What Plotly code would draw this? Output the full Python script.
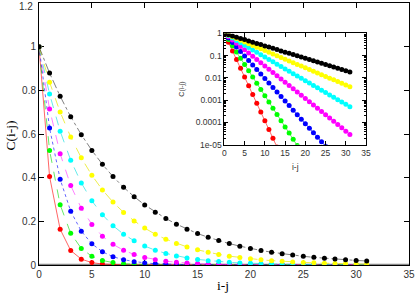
import plotly.graph_objects as go

lags = list(range(32))

c_red = [1, 0.405, 0.164, 0.0664, 0.0269, 0.0109, 0.00441, 0.00179, 0.000724, 0.000293,
         0.000119, 4.81e-5, 1.95e-5, 7.89e-6, 3.19e-6, 1.29e-6, 5.24e-7, 2.12e-7, 8.59e-8, 3.48e-8,
         1.41e-8, 5.71e-9, 2.31e-9, 9.37e-10, 3.79e-10, 1.54e-10, 6.22e-11, 2.52e-11, 1.02e-11,
         4.13e-12, 1.67e-12, 6.77e-13]
c_green = [1, 0.525, 0.276, 0.145, 0.0760, 0.0399, 0.0209, 0.0110, 0.00577, 0.00303,
           0.00159, 0.000835, 0.000438, 0.000230, 0.000121, 6.34e-5, 3.33e-5, 1.75e-5, 9.18e-6,
           4.82e-6, 2.53e-6, 1.33e-6, 6.97e-7, 3.66e-7, 1.92e-7, 1.01e-7, 5.30e-8, 2.78e-8,
           1.46e-8, 7.67e-9, 4.03e-9, 2.11e-9]
c_blue = [1, 0.627, 0.393, 0.246, 0.155, 0.0969, 0.0608, 0.0381, 0.0239, 0.0150,
          0.00939, 0.00589, 0.00369, 0.00231, 0.00145, 0.000910, 0.000571, 0.000358, 0.000224,
          0.000141, 8.82e-5, 5.53e-5, 3.47e-5, 2.17e-5, 1.36e-5, 8.55e-6, 5.36e-6, 3.36e-6,
          2.11e-6, 1.32e-6, 8.28e-7, 5.19e-7]
c_magenta = [1, 0.714, 0.510, 0.364, 0.260, 0.186, 0.132, 0.0946, 0.0675, 0.0482,
             0.0344, 0.0246, 0.0176, 0.0125, 0.00895, 0.00639, 0.00456, 0.00326, 0.00233,
             0.00166, 0.00119, 0.000847, 0.000604, 0.000432, 0.000308, 0.000220, 0.000157,
             0.000112, 8.01e-5, 5.72e-5, 4.08e-5, 2.92e-5]
c_cyan = [1, 0.783, 0.613, 0.480, 0.376, 0.294, 0.230, 0.180, 0.141, 0.111,
          0.0866, 0.0678, 0.0531, 0.0416, 0.0326, 0.0255, 0.0200, 0.0156, 0.0122, 0.00958,
          0.00750, 0.00587, 0.00460, 0.00360, 0.00282, 0.00221, 0.00173, 0.00135, 0.00106,
          0.000830, 0.000650, 0.000509]
c_yellow = [1, 0.837, 0.701, 0.586, 0.491, 0.411, 0.344, 0.288, 0.241, 0.202,
            0.169, 0.141, 0.118, 0.0990, 0.0828, 0.0693, 0.0580, 0.0486, 0.0406, 0.0340,
            0.0285, 0.0238, 0.0200, 0.0167, 0.0140, 0.0117, 0.00979, 0.00820, 0.00686,
            0.00574, 0.00481, 0.00402]
c_black = [1, 0.879, 0.773, 0.679, 0.597, 0.525, 0.461, 0.405, 0.356, 0.313,
           0.275, 0.242, 0.213, 0.187, 0.164, 0.144, 0.127, 0.112, 0.0981, 0.0863,
           0.0758, 0.0666, 0.0586, 0.0515, 0.0453, 0.0398, 0.0350, 0.0307, 0.0270,
           0.0238, 0.0209, 0.0184]

main_x_ticks = [0, 5, 10, 15, 20, 25, 30, 35]
main_y_ticks = [0, 0.2, 0.4, 0.6, 0.8, 1, 1.2]
main_y_labels = ["0", "0.2", "0.4", "0.6", "0.8", "1", ""]
main_y_top_label = "1.2"
inset_y_ticks = [1, 0.1, 0.01, 0.001, 0.0001, 0.00001]
inset_y_labels = ["1", "0.1", "0.01", "0.001", "0.0001", "1e-05"]

series = [
    ("red", c_red, "#ff0000", "rgba(255,0,0,0.6)", "solid"),
    ("green", c_green, "#00ff00", "rgba(0,220,0,0.6)", "dash"),
    ("blue", c_blue, "#0000ff", "rgba(0,0,255,0.6)", "dot"),
    ("magenta", c_magenta, "#ff00ff", "rgba(255,0,255,0.5)", "dash"),
    ("cyan", c_cyan, "#00ffff", "rgba(0,220,220,0.6)", "dash"),
    ("yellow", c_yellow, "#ffff00", "rgba(230,230,0,0.7)", "dash"),
    ("black", c_black, "#000000", "rgba(0,0,0,0.5)", "dashdot"),
]

zero_x = [0, 35]
zero_y = [0, 0]

fig = go.Figure()
fig.add_trace(go.Scatter(x=zero_x, y=zero_y, mode="lines",
                         line=dict(color="#888888", width=2.5),
                         showlegend=False, hoverinfo="skip"))

for name, vals, mc, lc, dash in series:
    fig.add_trace(go.Scatter(x=lags, y=vals, mode="lines+markers", name=name,
                             line=dict(color=lc, width=1, dash=dash),
                             marker=dict(color=mc, size=5),
                             showlegend=False))
for name, vals, mc, lc, dash in series:
    fig.add_trace(go.Scatter(x=lags, y=vals, mode="lines+markers", name=name,
                             xaxis="x2", yaxis="y2",
                             line=dict(color=lc, width=1),
                             marker=dict(color=mc, size=5),
                             showlegend=False))

tickfont = dict(family="Liberation Sans, Arial, sans-serif", size=10, color="#333333")
small = dict(family="Liberation Sans, Arial, sans-serif", size=8.5, color="#333333")
serif = dict(family="Liberation Serif, Times New Roman, serif", size=13.5, color="black")

fig.update_layout(
    width=415, height=294,
    margin=dict(l=39, r=6, t=3, b=29),
    paper_bgcolor="white", plot_bgcolor="white",
    xaxis=dict(range=[0, 35], tickvals=main_x_ticks, showgrid=False, zeroline=False,
               showline=True, linecolor="black", linewidth=1, mirror="ticks",
               ticks="inside", ticklen=5, tickcolor="black", tickfont=tickfont,
               layer="below traces", automargin=False),
    yaxis=dict(range=[0, 1.2], tickvals=main_y_ticks, ticktext=main_y_labels,
               showgrid=False, zeroline=False,
               showline=True, linecolor="black", linewidth=1, mirror="ticks",
               ticks="inside", ticklen=5, tickcolor="black", tickfont=tickfont,
               layer="below traces", automargin=False),
    xaxis2=dict(domain=[0.501, 0.884], anchor="y2", range=[0, 35], tickvals=main_x_ticks,
                showgrid=False, zeroline=False, showline=True, linecolor="black",
                mirror="ticks", ticks="inside", ticklen=4, tickcolor="black", tickfont=small,
                automargin=False,
                title=dict(text="i-j", font=small, standoff=7)),
    yaxis2=dict(domain=[0.459, 0.884], anchor="x2", type="log", range=[-5, 0],
                tickvals=inset_y_ticks, ticktext=inset_y_labels,
                showgrid=False, zeroline=False, showline=True, linecolor="black",
                mirror="ticks", ticks="inside", ticklen=4, tickcolor="black", tickfont=small,
                automargin=False,
                minor=dict(ticks="inside", ticklen=2, tickcolor="black", showgrid=False,
                           tickvals=[m * 10 ** e for e in range(-5, 0) for m in range(2, 10)]),
                title=dict(text="C(i-j)", font=dict(family="Liberation Sans, Arial, sans-serif",
                                                     size=7, color="#333333"), standoff=10)),
    annotations=[
        dict(text="i-j", xref="paper", yref="paper", x=0.497, y=-0.077, xanchor="center",
             yanchor="middle", showarrow=False, font=serif),
        dict(text="C(i-j)", xref="paper", yref="paper", x=-0.078, y=0.495, xanchor="center",
             yanchor="middle", showarrow=False, textangle=-90, font=serif),
        dict(text=main_y_top_label, xref="paper", yref="y", x=-0.014, y=1.2,
             xanchor="right", yanchor="top", yshift=3, borderpad=0,
             showarrow=False, font=tickfont),
    ],
)

fig.write_html("out.html", config={"displayModeBar": False},
               post_script="document.body.style.margin='0';document.body.style.overflow='hidden';")
